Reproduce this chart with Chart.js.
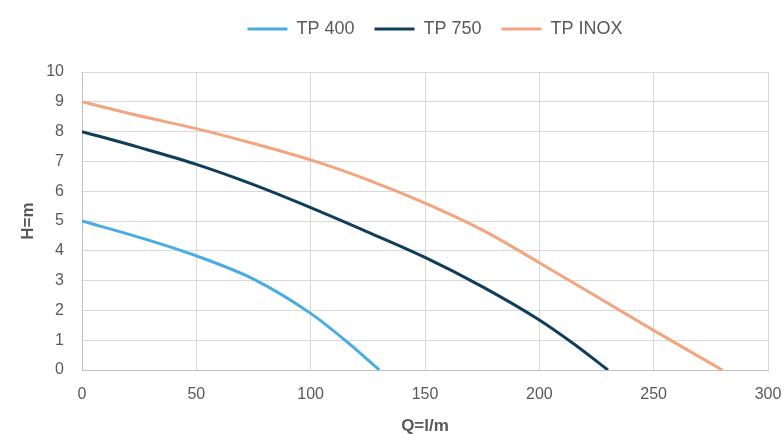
<!DOCTYPE html>
<html>
<head>
<meta charset="utf-8">
<script src="https://cdn.jsdelivr.net/npm/chart.js@4/dist/chart.umd.min.js"></script>
<style>
html,body{margin:0;padding:0;background:#fff;}
#wrap{width:784px;height:434px;position:relative;}
</style>
</head>
<body>
<div id="wrap"><canvas id="c" width="784" height="434"></canvas></div>
<script>
// Data
const seriesNames = ["TP 400", "TP 750", "TP INOX"];
const q400  = [0, 25, 50, 75, 100, 115, 130];
const h400  = [5, 4.45, 3.83, 3.05, 1.9, 1.0, 0];
const q750  = [0, 25, 50, 75, 100, 125, 150, 175, 200, 215, 230];
const h750  = [8, 7.47, 6.9, 6.22, 5.45, 4.63, 3.78, 2.8, 1.68, 0.88, 0];
const qInox = [0, 25, 50, 75, 100, 125, 150, 175, 200, 250, 280];
const hInox = [9, 8.53, 8.1, 7.6, 7.05, 6.38, 5.6, 4.7, 3.6, 1.33, 0];
const xTitle = "Q=l/m";
const yTitle = "H=m";

const colors = ["#4AACE3", "#0F3D5A", "#F2A57F"];
const toPts = (xs, ys) => xs.map((x, i) => ({x: x, y: ys[i]}));
const FONT = "'Liberation Sans', Arial, sans-serif";
const TXT = "#595959";

const mk = (name, xs, ys, col) => ({
  label: name,
  data: toPts(xs, ys),
  borderColor: col,
  backgroundColor: col,
  borderWidth: 3,
  pointRadius: 0,
  pointHoverRadius: 0,
  cubicInterpolationMode: 'monotone',
  pointStyle: 'line',
  fill: false
});

const legendGap = {
  id: 'legendGap',
  beforeUpdate(chart) {
    const lg = chart.legend;
    if (lg && !lg._gapPatched) {
      const f = lg.fit.bind(lg);
      lg.fit = function () { f(); this.height += 24; };
      lg._gapPatched = true;
    }
  },
  afterLayout(chart) {
    const lg = chart.legend;
    if (lg) { lg.left += 42; lg.right += 42; }
  }
};

new Chart(document.getElementById('c'), {
  type: 'line',
  data: {
    datasets: [
      mk(seriesNames[0], q400, h400, colors[0]),
      mk(seriesNames[1], q750, h750, colors[1]),
      mk(seriesNames[2], qInox, hInox, colors[2])
    ]
  },
  plugins: [legendGap],
  options: {
    responsive: false,
    animation: false,
    layout: {padding: {left: 18, right: 16, top: 0, bottom: 0}},
    plugins: {
      tooltip: {enabled: false},
      legend: {
        position: 'top',
        align: 'center',
        labels: {
          usePointStyle: true,
          pointStyleWidth: 40,
          boxHeight: 16,
          padding: 20,
          color: TXT,
          font: {family: FONT, size: 18}
        }
      }
    },
    scales: {
      x: {
        type: 'linear',
        min: 0, max: 300,
        ticks: {stepSize: 50, color: TXT, font: {family: FONT, size: 16}, padding: 15},
        grid: {color: '#D9D9D9', lineWidth: 1, drawTicks: false},
        border: {color: '#BFBFBF', width: 1},
        title: {display: true, text: xTitle, color: TXT, font: {family: FONT, size: 17, weight: 'bold'}, padding: {top: 15, bottom: -3}},
        afterFit: (s) => { s.height = 64; s.paddingRight = 0; s.paddingLeft = 0; }
      },
      y: {
        min: 0, max: 10,
        ticks: {stepSize: 1, color: TXT, font: {family: FONT, size: 16}, padding: 18},
        grid: {color: '#D9D9D9', lineWidth: 1, drawTicks: false},
        border: {color: '#BFBFBF', width: 1},
        title: {display: true, text: yTitle, color: TXT, font: {family: FONT, size: 17, weight: 'bold'}, padding: {top: 0, bottom: 0}},
        afterFit: (s) => { s.width = 64; }
      }
    }
  }
});
</script>
</body>
</html>
